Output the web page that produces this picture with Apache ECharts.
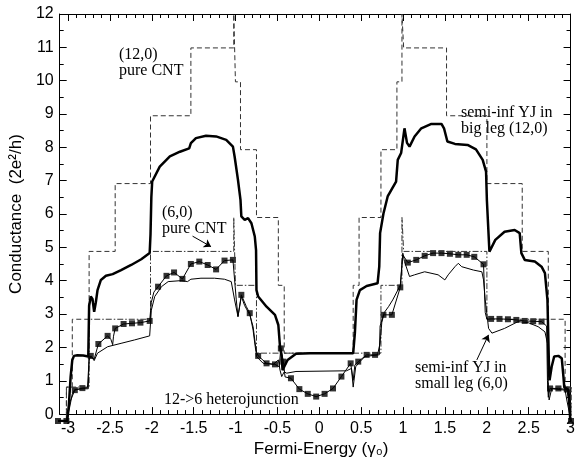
<!DOCTYPE html>
<html>
<head>
<meta charset="utf-8">
<script src="https://cdn.jsdelivr.net/npm/echarts@6/dist/echarts.min.js"></script>
<style>
html, body { margin: 0; padding: 0; background: #fff; }
#chart { width: 578px; height: 463px; }
</style>
</head>
<body>
<div id="chart"></div>
<script>
// pure (12,0) tube, step curve (spikes at +-1 run up to the frame top)
const cnt12 = [
    [-3.1, 0], [-3.0, 0], [-3.0, 1], [-2.93, 1], [-2.93, 3], [-2.73, 3], [-2.73, 5], [-2.42, 5], [-2.42, 7],
    [-2.0, 7], [-2.0, 9], [-1.52, 9], [-1.52, 11], [-1.01, 11], [-1.01, 12], [-0.99, 12], [-0.99, 10],
    [-0.93, 10], [-0.93, 8], [-0.74, 8], [-0.74, 6], [-0.48, 6], [-0.48, 4], [-0.41, 4], [-0.41, 2],
    [0.41, 2], [0.41, 4], [0.48, 4], [0.48, 6], [0.74, 6], [0.74, 8], [0.93, 8], [0.93, 10], [0.99, 10],
    [0.99, 12], [1.01, 12], [1.01, 11], [1.52, 11], [1.52, 9], [2.0, 9], [2.0, 7], [2.42, 7], [2.42, 5],
    [2.73, 5], [2.73, 3], [2.93, 3], [2.93, 1], [3.0, 1], [3.0, 0]
];

// pure (6,0) tube, step curve
const cnt6 = [
    [-3.1, 0], [-3.0, 0], [-3.0, 1], [-2.73, 1], [-2.73, 3], [-2.0, 3], [-2.0, 5], [-1.01, 5], [-1.01, 6],
    [-0.99, 6], [-0.99, 4], [-0.74, 4], [-0.74, 2], [0.74, 2], [0.74, 4], [0.99, 4], [0.99, 6], [1.01, 6],
    [1.01, 5], [2.0, 5], [2.0, 3], [2.73, 3], [2.73, 1], [3.0, 1], [3.0, 0]
];

// semi-infinite Y junction, big leg (12,0)
const bigLeg = [
    [-3.1, 0], [-2.99, 0], [-2.97, 0.5], [-2.95, 1.3], [-2.93, 1.8], [-2.91, 1.92], [-2.87, 1.94], [-2.8, 1.93],
    [-2.74, 1.9], [-2.73, 3.4], [-2.71, 3.67], [-2.69, 3.6], [-2.67, 3.22], [-2.65, 3.5], [-2.63, 3.86],
    [-2.59, 4.16], [-2.53, 4.28], [-2.45, 4.33], [-2.35, 4.45], [-2.23, 4.6], [-2.11, 4.77], [-2.01, 4.95],
    [-2.0, 5.5], [-1.99, 6.6], [-1.98, 7.06], [-1.89, 7.5], [-1.77, 7.8], [-1.65, 7.94], [-1.54, 8.04],
    [-1.52, 8.19], [-1.46, 8.34], [-1.34, 8.41], [-1.22, 8.39], [-1.1, 8.29], [-1.02, 8.09], [-1.0, 7.8],
    [-0.96, 7.11], [-0.93, 6.52], [-0.92, 6.03], [-0.88, 5.93], [-0.84, 5.98], [-0.8, 5.83], [-0.76, 5.44],
    [-0.745, 5.04], [-0.74, 3.86], [-0.72, 3.67], [-0.62, 3.37], [-0.52, 3.13], [-0.48, 2.83], [-0.46, 2.19],
    [-0.44, 1.9], [-0.43, 1.5], [-0.4, 1.65], [-0.37, 1.8], [-0.27, 1.98], [-0.1, 2.0], [0.41, 2.0],
    [0.43, 2.59], [0.45, 3.57], [0.49, 3.86], [0.57, 3.98], [0.7, 4.06], [0.72, 4.55], [0.73, 5.54],
    [0.77, 6.12], [0.82, 6.62], [0.92, 7.06], [0.94, 7.7], [0.98, 7.9], [1.02, 8.63], [1.05, 8.2],
    [1.08, 8.09], [1.14, 8.39], [1.22, 8.63], [1.34, 8.76], [1.46, 8.76], [1.49, 8.63], [1.53, 8.24],
    [1.62, 8.17], [1.77, 8.14], [1.87, 8.01], [1.95, 7.7], [1.99, 7.35], [2.0, 6.5], [2.03, 4.99],
    [2.1, 5.34], [2.21, 5.58], [2.33, 5.63], [2.39, 5.54], [2.41, 4.95], [2.45, 4.75], [2.57, 4.7],
    [2.65, 4.55], [2.69, 4.36], [2.72, 3.57], [2.74, 1.41], [2.745, 1.2], [2.77, 1.6], [2.8, 1.9],
    [2.85, 1.92], [2.89, 1.85], [2.91, 1.31], [2.92, 1.0], [2.97, 0.91], [2.99, 0.08], [3.0, 0]
];

// semi-infinite Y junction, small leg (6,0)
const smallLeg = [
    [-3.1, 0], [-3.0, 0], [-2.96, 0.42], [-2.93, 0.8], [-2.9, 0.93], [-2.8, 0.95], [-2.74, 0.95], [-2.73, 1.9],
    [-2.69, 1.85], [-2.67, 1.78], [-2.63, 2.0], [-2.51, 2.19], [-2.35, 2.29], [-2.19, 2.39], [-2.01, 2.51],
    [-1.99, 3.27], [-1.95, 3.67], [-1.87, 3.96], [-1.79, 4.11], [-1.63, 4.14], [-1.56, 4.11], [-1.52, 4.18],
    [-1.4, 4.21], [-1.24, 4.21], [-1.12, 4.18], [-1.04, 4.11], [-1.0, 3.57], [-0.96, 3.08], [-0.92, 3.67],
    [-0.88, 3.4], [-0.82, 3.13], [-0.78, 2.78], [-0.75, 2.19], [-0.74, 1.9], [-0.66, 1.7], [-0.54, 1.67],
    [-0.48, 1.8], [-0.46, 1.5], [-0.44, 1.31], [-0.41, 1.45], [-0.38, 1.41], [-0.27, 1.46], [0.33, 1.48],
    [0.39, 1.55], [0.41, 1.0], [0.44, 1.6], [0.49, 1.75], [0.55, 1.9], [0.7, 1.95], [0.73, 2.3], [0.75, 2.9],
    [0.78, 3.2], [0.83, 3.37], [0.88, 3.57], [0.97, 4.0], [1.0, 4.95], [1.02, 4.7], [1.08, 4.26], [1.14, 4.31],
    [1.26, 4.4], [1.42, 4.31], [1.5, 4.16], [1.54, 4.31], [1.62, 4.55], [1.66, 4.65], [1.7, 4.55], [1.84, 4.45],
    [1.94, 4.4], [1.96, 4.16], [1.98, 3.57], [2.02, 2.73], [2.06, 2.59], [2.21, 2.73], [2.37, 2.93], [2.49, 2.9],
    [2.61, 2.78], [2.69, 2.63], [2.72, 2.29], [2.73, 1.0], [2.74, 0.62], [2.77, 0.95], [2.93, 0.91], [2.95, 0.62],
    [3.0, 0]
];

// 12->6 heterojunction: [x, y, 1 = square marker drawn]
const hetero = [
    [-3.1, 0, 1], [-3.0, 0, 1], [-2.96, 0.55, 0], [-2.9, 0.91, 1], [-2.81, 0.97, 1], [-2.75, 0.98, 0],
    [-2.73, 1.8, 0], [-2.71, 1.92, 1], [-2.67, 1.82, 0], [-2.62, 2.27, 1], [-2.51, 2.51, 1], [-2.47, 2.4, 0],
    [-2.45, 2.25, 0], [-2.44, 2.5, 0], [-2.42, 2.73, 1], [-2.32, 2.86, 1], [-2.22, 2.88, 1], [-2.12, 2.9, 1],
    [-2.01, 2.95, 1], [-1.99, 3.5, 0], [-1.96, 3.8, 0], [-1.91, 3.96, 1], [-1.81, 4.28, 1], [-1.72, 4.38, 1],
    [-1.62, 4.19, 1], [-1.52, 4.63, 1], [-1.42, 4.7, 1], [-1.32, 4.6, 1], [-1.22, 4.47, 1], [-1.12, 4.73, 1],
    [-1.02, 4.75, 1], [-1.0, 4.16, 0], [-0.98, 3.57, 0], [-0.96, 3.08, 0], [-0.92, 3.72, 1], [-0.86, 3.37, 0],
    [-0.82, 3.18, 1], [-0.78, 2.68, 0], [-0.75, 2.1, 0], [-0.72, 1.92, 1], [-0.62, 1.7, 1], [-0.52, 1.67, 1],
    [-0.47, 1.6, 0], [-0.45, 2.14, 1], [-0.42, 1.75, 1], [-0.4, 1.3, 0], [-0.33, 1.26, 1], [-0.23, 0.94, 1],
    [-0.13, 0.8, 1], [-0.03, 0.72, 1], [0.07, 0.8, 1], [0.17, 0.96, 1], [0.27, 1.31, 1], [0.38, 1.7, 1],
    [0.41, 1.2, 0], [0.43, 1.65, 0], [0.47, 1.75, 1], [0.57, 1.95, 1], [0.67, 1.95, 1], [0.72, 1.95, 0],
    [0.73, 2.8, 0], [0.77, 3.13, 1], [0.87, 3.13, 1], [0.97, 3.94, 1], [1.0, 4.9, 0], [1.06, 4.67, 1],
    [1.16, 4.75, 1], [1.26, 4.87, 1], [1.36, 4.95, 1], [1.46, 4.95, 1], [1.56, 4.93, 1], [1.66, 4.9, 1],
    [1.76, 4.9, 1], [1.85, 4.84, 1], [1.96, 4.62, 1], [1.98, 3.2, 0], [2.0, 3.0, 0], [2.05, 3.01, 1],
    [2.15, 3.01, 1], [2.25, 3.0, 1], [2.35, 2.98, 1], [2.45, 2.95, 1], [2.55, 2.94, 1], [2.65, 2.93, 1],
    [2.71, 2.8, 0], [2.72, 1.2, 0], [2.73, 0.7, 0], [2.75, 0.96, 1], [2.85, 0.96, 1], [2.95, 0.93, 1],
    [2.98, 0.5, 0], [3.0, 0, 1]
];

// annotation arrows [from, to] in data units
const arrow6 = [[-1.5, 5.45], [-1.28, 5.14]];
const arrowSmall = [[1.88, 1.8], [2.02, 2.54]];

const xMajor = [-3, -2.5, -2, -1.5, -1, -0.5, 0, 0.5, 1, 1.5, 2, 2.5, 3];
const xMinor = [];
for (let i = -31; i <= 30; i++) {
    if (i % 5 !== 0) xMinor.push(i / 10);
}

const AX = '#000';
const sansFont = 'Liberation Sans';
const plotBox = { left: 58, right: 7, top: 14, bottom: 42 };

const chart = echarts.init(document.getElementById('chart'));

function xAx(pos, ticks, len, withLabel, withLine) {
    return {
        type: 'value', gridIndex: 0, position: pos, min: -3.1, max: 3,
        axisLine: { show: withLine, onZero: false, lineStyle: { color: AX, width: 1 } },
        axisTick: { show: true, inside: true, length: len, customValues: ticks, lineStyle: { color: AX, width: 1 } },
        axisLabel: {
            show: withLabel, customValues: ticks, margin: 6,
            color: '#000', fontFamily: sansFont, fontSize: 16
        },
        splitLine: { show: false }
    };
}

function yAx(pos, withLabel) {
    return {
        type: 'value', gridIndex: 0, position: pos, min: 0, max: 12, interval: 1,
        axisLine: { show: true, onZero: false, lineStyle: { color: AX, width: 1 } },
        axisTick: { show: true, inside: true, length: 7, lineStyle: { color: AX, width: 1 } },
        minorTick: { show: true, splitNumber: 2, length: 4, lineStyle: { color: AX, width: 1 } },
        axisLabel: { show: withLabel, margin: 6, color: '#000', fontFamily: sansFont, fontSize: 16 },
        splitLine: { show: false }
    };
}

// frame axes (grid 0) carry ticks and labels only
const xAxes = [
    xAx('bottom', xMajor, 7, true, true),
    xAx('bottom', xMinor, 4, false, false),
    xAx('top', xMajor, 7, false, true),
    xAx('top', xMinor, 4, false, false)
];
xAxes[0].name = 'Fermi-Energy (γ₀)';
xAxes[0].nameLocation = 'middle';
xAxes[0].nameGap = 21;
xAxes[0].nameTextStyle = { fontFamily: sansFont, fontSize: 17, color: '#000', padding: [0, 0, 0, 12] };

const yAxes = [yAx('left', true), yAx('right', false)];
yAxes[0].name = 'Conductance  (2e²/h)';
yAxes[0].nameLocation = 'middle';
yAxes[0].nameGap = 24;
yAxes[0].nameTextStyle = { fontFamily: sansFont, fontSize: 17, color: '#000' };

// data axes (grid 1), same box and range, hidden
xAxes.push({ type: 'value', gridIndex: 1, min: -3.1, max: 3, show: false });
yAxes.push({ type: 'value', gridIndex: 1, min: 0, max: 12, show: false });
const onData = { xAxisIndex: 4, yAxisIndex: 2 };

function arrowLine(seg) {
    return {
        silent: true,
        symbol: ['none', 'arrow'],
        symbolSize: 7,
        label: { show: false },
        lineStyle: { color: '#000', width: 1, type: 'solid' },
        data: [[{ coord: seg[0] }, { coord: seg[1] }]]
    };
}

const option = {
    animation: false,
    backgroundColor: '#fff',
    grid: [Object.assign({}, plotBox), Object.assign({}, plotBox)],
    xAxis: xAxes,
    yAxis: yAxes,
    series: [
        Object.assign({
            name: '(12,0) pure CNT', type: 'line', data: cnt12, showSymbol: false,
            lineStyle: { color: '#333', width: 1, type: [5, 3] }
        }, onData),
        Object.assign({
            name: '(6,0) pure CNT', type: 'line', data: cnt6, showSymbol: false,
            lineStyle: { color: '#333', width: 1, type: [6, 2, 1.5, 2] },
            markLine: arrowLine(arrow6)
        }, onData),
        Object.assign({
            name: 'semi-inf YJ in big leg (12,0)', type: 'line', data: bigLeg, showSymbol: false,
            lineStyle: { color: '#000', width: 2.5 }
        }, onData),
        Object.assign({
            name: 'semi-inf YJ in small leg (6,0)', type: 'line', data: smallLeg, showSymbol: false,
            lineStyle: { color: '#000', width: 1 },
            markLine: arrowLine(arrowSmall)
        }, onData),
        Object.assign({
            name: '12->6 heterojunction', type: 'line', data: hetero.map(p => [p[0], p[1]]), showSymbol: false,
            lineStyle: { color: '#000', width: 1 }
        }, onData),
        Object.assign({
            name: '12->6 heterojunction marks', type: 'scatter',
            data: hetero.filter(p => p[2] === 1).map(p => [p[0], p[1]]),
            symbol: 'rect', symbolSize: 6, itemStyle: { color: '#000' }
        }, onData)
    ],
    graphic: [
        { type: 'text', left: 119, top: 47, style: { text: '(12,0)\npure CNT', font: '16px "Liberation Serif"', lineHeight: 16, fill: '#000' } },
        { type: 'text', left: 162, top: 205, style: { text: '(6,0)\npure CNT', font: '16px "Liberation Serif"', lineHeight: 16, fill: '#000' } },
        { type: 'text', left: 461, top: 105, style: { text: 'semi-inf YJ in\nbig leg (12,0)', font: '16px "Liberation Serif"', lineHeight: 16, fill: '#000' } },
        { type: 'text', left: 415, top: 360, style: { text: 'semi-inf YJ in\nsmall leg (6,0)', font: '16px "Liberation Serif"', lineHeight: 15.5, fill: '#000' } },
        { type: 'text', left: 164, top: 392, style: { text: '12->6 heterojunction', font: '16px "Liberation Serif"', lineHeight: 16, fill: '#000' } }
    ]
};

chart.setOption(option);
</script>
</body>
</html>
